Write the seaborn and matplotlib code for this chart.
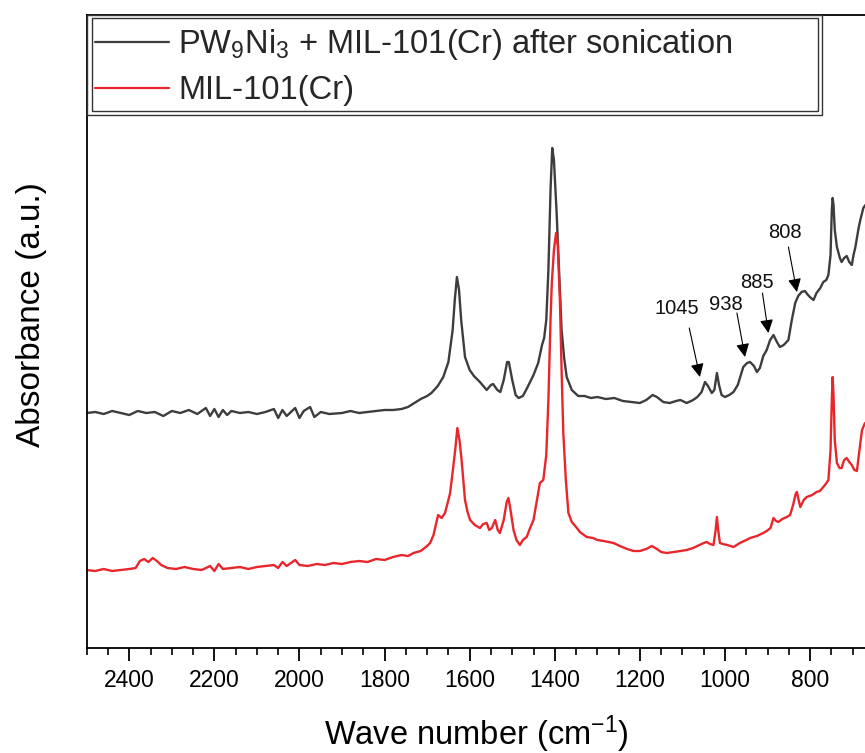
import numpy as np
import pandas as pd
import matplotlib
matplotlib.use("Agg")
import matplotlib.pyplot as plt
from matplotlib.patches import Rectangle
from matplotlib.ticker import MultipleLocator
from matplotlib import font_manager
import seaborn as sns

# ---------------- data (arbitrary absorbance units) ----------------
wn_black = [2500, 2480, 2460, 2440, 2420, 2400, 2380, 2360, 2340, 2320, 2300, 2280, 2260, 2240,
            2220, 2210, 2200, 2190, 2180, 2170, 2160, 2140, 2120, 2100, 2080, 2060, 2050, 2040,
            2030, 2010, 2000, 1990, 1975, 1965, 1950, 1930, 1900, 1880, 1860, 1840, 1820, 1800,
            1780, 1760, 1745, 1730, 1715, 1700, 1690, 1675, 1662, 1650, 1640, 1635, 1630, 1625,
            1620, 1611, 1600, 1590, 1576, 1560, 1550, 1545, 1535, 1528, 1520, 1512, 1508, 1500,
            1492, 1485, 1475, 1465, 1450, 1439, 1430, 1425, 1420, 1415, 1410, 1406, 1402, 1396,
            1390, 1384, 1378, 1372, 1360, 1345, 1330, 1315, 1300, 1280, 1260, 1240, 1220, 1200,
            1185, 1170, 1160, 1145, 1130, 1115, 1105, 1090, 1075, 1065, 1055, 1047, 1040, 1031,
            1025, 1019, 1014, 1008, 1000, 990, 980, 970, 957, 948, 941, 932, 925, 918, 910, 902,
            894, 886, 878, 871, 862, 851, 843, 835, 828, 820, 812, 805, 798, 792, 785, 776, 769,
            762, 757, 752, 749, 747, 745, 742, 737, 730, 726, 720, 714, 708, 702, 698, 694, 690,
            686, 682, 675, 670]
abs_black = [235, 236, 234, 237, 235, 233, 237, 235, 236, 232, 237, 235, 238, 234,
             240, 232, 239, 231, 238, 233, 237, 235, 236, 234, 236, 239, 230, 238,
             232, 240, 230, 237, 241, 231, 236, 234, 235, 237, 235, 236, 237, 238,
             238, 239, 241, 245, 249, 252, 255, 262, 271, 286, 318, 348, 371, 358,
             328, 291, 278, 272, 266, 258, 263, 264, 258, 256, 268, 286, 286, 268,
             253, 250, 252, 260, 273, 285, 303, 310, 328, 378, 458, 500, 488, 438,
             378, 318, 290, 271, 258, 252, 252, 250, 251, 249, 250, 247, 246, 245,
             248, 253, 251, 246, 245, 247, 248, 245, 248, 251, 256, 266, 262, 255,
             258, 275, 263, 253, 251, 253, 256, 263, 281, 285, 286, 282, 276, 280, 292, 298,
             308, 313, 306, 301, 303, 308, 328, 345, 352, 356, 357, 353, 350, 348, 355, 360, 366,
             368, 373, 393, 438, 450, 443, 418, 401, 390, 386, 390, 392, 386, 383, 393, 400, 410,
             420, 428, 440, 443]

wn_red = [2500, 2480, 2460, 2440, 2420, 2400, 2385, 2375, 2365, 2355, 2345, 2335, 2325, 2310,
          2290, 2270, 2250, 2230, 2210, 2200, 2190, 2180, 2160, 2140, 2120, 2100, 2080, 2060,
          2050, 2040, 2030, 2020, 2010, 2000, 1980, 1960, 1940, 1920, 1900, 1880, 1860, 1840,
          1820, 1800, 1780, 1760, 1745, 1732, 1715, 1700, 1693, 1685, 1678, 1674, 1666, 1658,
          1650, 1646, 1640, 1634, 1629, 1624, 1619, 1611, 1605, 1599, 1588, 1576, 1568, 1560,
          1554, 1548, 1540, 1534, 1529, 1520, 1513, 1509, 1504, 1497, 1490, 1482, 1475, 1466,
          1458, 1450, 1442, 1435, 1427, 1420, 1415, 1410, 1407, 1402, 1397, 1393, 1388, 1384,
          1380, 1374, 1368, 1360, 1350, 1341, 1325, 1310, 1300, 1285, 1262, 1247, 1230, 1215,
          1200, 1185, 1172, 1160, 1150, 1137, 1120, 1105, 1090, 1075, 1060, 1050, 1043, 1035,
          1027, 1022, 1019, 1016, 1012, 1005, 995, 980, 965, 950, 941, 925, 910, 902, 893, 886,
          880, 875, 865, 855, 847, 840, 834, 831, 827, 823, 815, 808, 795, 785, 777, 765, 757,
          752, 749, 747, 745, 742, 737, 731, 726, 720, 714, 708, 702, 696, 690, 684, 678, 671]
abs_red = [78, 77, 79, 77, 78, 79, 80, 87, 89, 86, 90, 87, 83, 80,
           79, 81, 79, 78, 82, 77, 84, 79, 80, 81, 79, 81, 82, 83,
           80, 86, 82, 85, 88, 83, 82, 84, 83, 85, 84, 86, 87, 86,
           89, 88, 91, 93, 92, 95, 97, 102, 105, 113, 126, 133, 130, 135,
           148, 155, 176, 198, 220, 208, 188, 148, 136, 128, 123, 120, 124, 125,
           118, 120, 128, 118, 115, 128, 146, 150, 138, 118, 108, 103, 108, 111,
           120, 128, 148, 165, 168, 193, 248, 328, 365, 398, 415, 403, 348, 278,
           215, 168, 135, 126, 121, 116, 111, 110, 108, 107, 105, 102, 99, 97,
           97, 99, 102, 99, 96, 95, 96, 97, 98, 100, 103, 105, 106, 104,
           103, 118, 131, 118, 105, 104, 103, 101, 105, 108, 110, 112, 115, 117, 120, 130,
           127, 126, 129, 131, 133, 143, 154, 156, 148, 141, 148, 151, 153, 156, 157, 163, 168,
           198, 248, 271, 253, 208, 185, 180, 180, 188, 190, 186, 183, 178, 177, 198, 218, 225]

series_labels = ["PW$_9$Ni$_3$ + MIL-101(Cr) after sonication", "MIL-101(Cr)"]
series_colors = ["#3d3d3d", "#e8262b"]

x_ticks = [2400, 2200, 2000, 1800, 1600, 1400, 1200, 1000, 800]

# annotations: label, text position, arrow tail, arrow tip
ann_labels = ["1045", "938", "885", "808"]
ann_text = [(1113, 340), (997, 344), (925, 366), (860, 416)]
ann_tail = [(1084, 320), (972, 335), (912, 355), (851, 401)]
ann_tip = [(1059, 271), (953, 291), (898, 315), (831, 356)]

# ---------------- figure ----------------
sns.set_theme(style="white")
plt.rcParams["font.family"] = ["Liberation Sans", "DejaVu Sans"]
plt.rcParams["mathtext.fontset"] = "custom"
plt.rcParams["mathtext.rm"] = "Liberation Sans"
plt.rcParams["mathtext.it"] = "Liberation Sans"

# condensed face for the tick labels, if one is installed
tick_size = 16.5
try:
    font_manager.findfont(font_manager.FontProperties(family="Liberation Sans Narrow"),
                          fallback_to_default=False)
    tick_family = ["Liberation Sans Narrow", "Liberation Sans"]
    tick_size = 18.5
except Exception:
    tick_family = ["Liberation Sans", "DejaVu Sans"]

fig = plt.figure(figsize=(8.65, 7.53), dpi=100)
ax = fig.add_axes([86.7 / 865, 105 / 753, 778.3 / 865, 633 / 753])

df_b = pd.DataFrame({"wn": wn_black, "a": abs_black})
df_r = pd.DataFrame({"wn": wn_red, "a": abs_red})
sns.lineplot(data=df_b, x="wn", y="a", ax=ax, color=series_colors[0], lw=1.7,
             label=series_labels[0], estimator=None, sort=True)
sns.lineplot(data=df_r, x="wn", y="a", ax=ax, color=series_colors[1], lw=1.7,
             label=series_labels[1], estimator=None, sort=True)

ax.set_xlim(2500, 671)
ax.set_ylim(0, 633)

ax.set_xticks(x_ticks)
ax.set_xticklabels([str(t) for t in x_ticks])
ax.xaxis.set_minor_locator(MultipleLocator(50))
ax.set_yticks([])
ax.tick_params(axis="x", which="major", direction="out", length=9, width=1.3,
               color="black", pad=6, labelsize=tick_size, bottom=True, top=False)
ax.tick_params(axis="x", which="minor", direction="out", length=5, width=1.2,
               color="black", bottom=True, top=False)
for lab in ax.get_xticklabels():
    lab.set_family(tick_family)
    lab.set_color("black")

for side in ["left", "bottom", "top"]:
    ax.spines[side].set_color("black")
    ax.spines[side].set_linewidth(1.3)
ax.spines["right"].set_visible(False)

ax.set_xlabel("Wave number (cm$^{-1}$)", fontsize=23.5, color="black")
ax.set_ylabel("Absorbance (a.u.)", fontsize=24, color="black")
ax.xaxis.set_label_coords(0.5, -0.103)
ax.xaxis.label.set_va("top")
ax.yaxis.set_label_coords(-0.051, 0.526)

# annotations
for lab, tp, tl, tip in zip(ann_labels, ann_text, ann_tail, ann_tip):
    ax.text(tp[0], tp[1], lab, fontsize=14.5, ha="center", va="center", color="#111111")
    ax.annotate("", xy=tip, xytext=tl,
                arrowprops=dict(arrowstyle="-|>", color="black", lw=0.8,
                                mutation_scale=20, shrinkA=0, shrinkB=0))

# legend (Origin-style double frame)
leg = ax.legend(loc="upper left", bbox_to_anchor=(0.0068, 0.986), frameon=False,
                fontsize=23.5, handlelength=2.25, handletextpad=0.3, borderpad=0.1,
                labelspacing=0.4, borderaxespad=0)
for h in leg.get_lines():
    h.set_linewidth(1.6)
ax.add_patch(Rectangle((0.0, 0.842), 0.9448, 0.158, transform=ax.transAxes,
                       fill=False, edgecolor="#333333", lw=1.0, zorder=5, clip_on=False))
ax.add_patch(Rectangle((0.0068, 0.848), 0.9328, 0.147, transform=ax.transAxes,
                       fill=False, edgecolor="#333333", lw=1.0, zorder=5, clip_on=False))

fig.savefig("out.png", dpi=100, facecolor="white")
